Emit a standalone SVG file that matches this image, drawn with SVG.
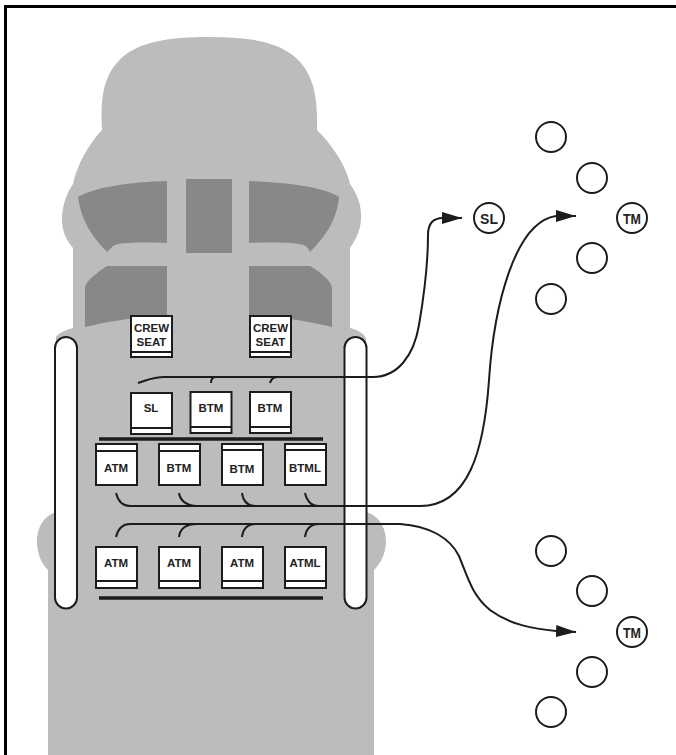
<svg xmlns="http://www.w3.org/2000/svg" width="676" height="755" viewBox="0 0 676 755">
<style>
.body{fill:#bcbcbc}
.win{fill:#888888}
.box{fill:#fff;stroke:#1c1c1c;stroke-width:2}
.div{stroke:#1c1c1c;stroke-width:2;fill:none}
.bar{stroke:#1c1c1c;stroke-width:3.5;fill:none}
.pill{fill:#fff;stroke:#1c1c1c;stroke-width:2}
.ring{fill:#fff;stroke:#1c1c1c;stroke-width:2}
.conn{fill:none;stroke:#1c1c1c;stroke-width:2}
text{font-family:"Liberation Sans",Arial,sans-serif;font-weight:700;font-size:11.5px;fill:#222;text-anchor:middle}
.big{font-size:14px}
</style>
<defs>
<marker id="arrow" markerUnits="userSpaceOnUse" markerWidth="20" markerHeight="12" refX="20" refY="6" orient="auto"><polygon points="0,0 20,6 0,12" fill="#1c1c1c"/></marker>
</defs>
<rect x="0" y="0" width="676" height="755" fill="#fff"/>
<g id="aircraft">
<path class="body" d="M102 130 C100 95 104 72 125 55 C145 40 175 37 208 37 C245 37 275 40 295 57 C313 73 318 95 317 130 C332 145 346 165 350 184 C358 195 362 207 361 220 C360 232 355 241 350 248 L350 328 C358 330 363 333 366 338 L366 512 C378 515 386 527 386 541 C386 553 381 563 374 570 L374 755 L48 755 L48 570 C41 563 37 553 37 541 C37 527 44 516 56 512 L56 337 C60 332 66 330 73 328 L73 248 C67 241 62 232 62 220 C62 207 66 194 73 184 C77 165 88 145 102 130 Z"/>
<path class="win" d="M78 197 C95 187 130 182 167 181 L167 243 C140 242 118 242 113 246 L107 252 C92 237 81 220 78 197 Z"/>
<rect class="win" x="186" y="179" width="46" height="74"/>
<path class="win" d="M249 181 C285 182 325 187 339 197 C337 220 325 237 310 252 L307 247 C302 242 275 242 249 243 Z"/>
<path class="win" d="M107 266 L167 266 L167 315 C135 317 105 322 85 327 L85 287 C87 280 98 272 107 266 Z"/>
<path class="win" d="M249 266 L310 266 C320 272 330 280 332 287 L332 327 C312 322 282 317 249 315 Z"/>
<rect class="pill" x="55" y="337" width="22" height="271.500" rx="11"/>
<rect class="pill" x="344.500" y="337" width="22" height="271.500" rx="11"/>
<path class="bar" d="M99 439 H323 M99 598 H323"/>
</g>
<g id="connectors">
<path class="conn" marker-end="url(#arrow)" d="M138 383 C148 380 152 377 165 377 H373 C398 377 414 355 419 325 C425 290 428 260 428 235 C428 224 433 218 443 218 L462 218"/>
<path class="conn" d="M211 383 C211 379 212 377 216 377 M270 383 C271 379 274 377 278 377"/>
<path class="conn" marker-end="url(#arrow)" d="M116 493 C118 501 122 506 130 506 H420 C468 506 484 452 489 380 C494 305 515 222 556 216 L576 216"/>
<path class="conn" d="M179 493 C180 500 186 506 197 506 M242 493 C243 500 247 506 256 506 M305 493 C306 499 310 506 319 506"/>
<path class="conn" marker-end="url(#arrow)" d="M116 537 C118 529 122 524 130 524 H400 C430 526 450 538 459 556 C468 578 472 595 490 610 C510 625 535 629 556 631 L576 632"/>
<path class="conn" d="M179 537 C180 529 186 524 197 524 M242 537 C243 529 247 524 256 524 M305 537 C306 530 310 524 319 524"/>
</g>
<g id="seat-left"><rect class="box" x="131" y="316" width="41" height="41"/><path class="div" d="M131 352 H172"/><text x="151.500" y="332">CREW</text><text x="151.500" y="346">SEAT</text></g>
<g id="seat-right"><rect class="box" x="250" y="316" width="41" height="41"/><path class="div" d="M250 352 H291"/><text x="270.500" y="332">CREW</text><text x="270.500" y="346">SEAT</text></g>
<g id="box-sl"><rect class="box" x="131" y="393" width="41" height="41"/><path class="div" d="M131 428 H172"/><text x="151" y="412">SL</text></g>
<g id="box-btm-1"><rect class="box" x="190.500" y="392" width="41" height="41"/><path class="div" d="M190.500 427 H231.500"/><text x="211" y="412">BTM</text></g>
<g id="box-btm-2"><rect class="box" x="250" y="392" width="41" height="41"/><path class="div" d="M250 427 H291"/><text x="270" y="412">BTM</text></g>
<g id="box-atm-r3"><rect class="box" x="96" y="444" width="41" height="41"/><path class="div" d="M96 451 H137"/><text x="116" y="471.500">ATM</text></g>
<g id="box-btm-r3-1"><rect class="box" x="159" y="444" width="41" height="41"/><path class="div" d="M159 451 H200"/><text x="179" y="471.500">BTM</text></g>
<g id="box-btm-r3-2"><rect class="box" x="222" y="444" width="41" height="41"/><path class="div" d="M222 450 H263"/><text x="242" y="472.500">BTM</text></g>
<g id="box-btml"><rect class="box" x="285" y="444" width="41" height="41"/><path class="div" d="M285 450 H326"/><text x="305" y="471.500">BTML</text></g>
<g id="box-atm-r4-1"><rect class="box" x="96" y="547" width="41" height="41"/><path class="div" d="M96 581 H137"/><text x="116" y="567">ATM</text></g>
<g id="box-atm-r4-2"><rect class="box" x="159" y="547" width="41" height="41"/><path class="div" d="M159 581 H200"/><text x="179" y="567">ATM</text></g>
<g id="box-atm-r4-3"><rect class="box" x="222" y="547" width="41" height="41"/><path class="div" d="M222 581 H263"/><text x="242" y="567">ATM</text></g>
<g id="box-atml"><rect class="box" x="285" y="547" width="41" height="41"/><path class="div" d="M285 581 H326"/><text x="305" y="567">ATML</text></g>
<g id="ring-t1"><circle class="ring" cx="551" cy="137" r="15"/></g>
<g id="ring-t2"><circle class="ring" cx="592" cy="178" r="15"/></g>
<g id="ring-t3"><circle class="ring" cx="592" cy="258" r="15"/></g>
<g id="ring-t4"><circle class="ring" cx="551" cy="299" r="15"/></g>
<g id="ring-sl"><circle class="ring" cx="489" cy="218" r="15"/><text class="big" x="489" y="223.500">SL</text></g>
<g id="ring-tm-top"><circle class="ring" cx="632" cy="218" r="15"/><text class="big" x="632" y="223.500" textLength="18" lengthAdjust="spacingAndGlyphs">TM</text></g>
<g id="ring-b1"><circle class="ring" cx="551" cy="551" r="15"/></g>
<g id="ring-b2"><circle class="ring" cx="592" cy="591" r="15"/></g>
<g id="ring-b3"><circle class="ring" cx="592" cy="672" r="15"/></g>
<g id="ring-b4"><circle class="ring" cx="551" cy="712" r="15"/></g>
<g id="ring-tm-bottom"><circle class="ring" cx="632" cy="632" r="15"/><text class="big" x="632" y="637.500" textLength="18" lengthAdjust="spacingAndGlyphs">TM</text></g>
<path id="frame" d="M5.500 755 V6.500 H676" fill="none" stroke="#000" stroke-width="3"/>
</svg>
